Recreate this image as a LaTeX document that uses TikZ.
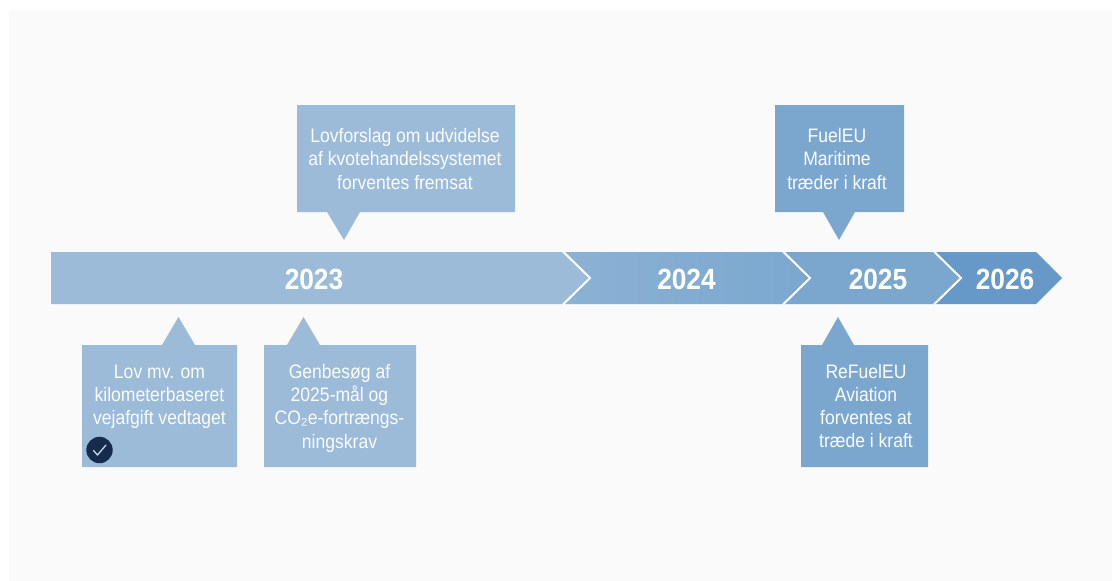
\documentclass[tikz,border=0pt]{standalone}
\usepackage{fontspec}
\setmainfont[FakeStretch=0.9]{Liberation Sans}
\definecolor{bgc}{HTML}{FAFAFA}
\definecolor{cA}{HTML}{9BBBD9}
\definecolor{cAB}{HTML}{8CB1D4}
\definecolor{cB}{HTML}{7BA7CF}
\definecolor{cC}{HTML}{6699C8}
\definecolor{navy}{HTML}{172B4D}
\tikzset{
  label/.style={text=white!96!cA,align=center,anchor=center,font=\fontsize{19.5}{23.3}\selectfont,inner sep=0pt},
  yr/.style={text=white,anchor=center,font=\fontsize{29.2}{30}\selectfont\bfseries,inner sep=0pt},
  notch/.style={white,line width=2pt},
}
\begin{document}
\begin{tikzpicture}[x=1pt,y=-1pt]
\useasboundingbox (0,0) rectangle (1112,581);
\fill[bgc] (9,11) rectangle (1112,581);
% ribbon
\fill[cC] (933,252) -- (1036,252) -- (1062,278) -- (1036,304) -- (933,304) -- cycle;
\fill[cB] (783,252) -- (934,252) -- (961,278) -- (934,304) -- (783,304) -- cycle;
\draw[notch] (934,251.5) -- (961,278) -- (934,304.5);
\shade[left color=cAB,right color=cB] (563,252) -- (783,252) -- (810,278) -- (783,304) -- (563,304) -- cycle;
\draw[notch] (783,251.5) -- (810,278) -- (783,304.5);
\fill[cA] (51,252) -- (563,252) -- (590,278) -- (563,304) -- (51,304) -- cycle;
\draw[notch] (563,251.5) -- (590,278) -- (563,304.5);
\node[yr] (y23) at (314,279) {2023};
\node[yr] (y24) at (686.5,279) {2024};
\node[yr] (y25) at (878,279) {2025};
\node[yr] (y26) at (1005,279) {2026};
% callouts
\fill[cA] (82,345) -- (162,345) -- (178.5,317) -- (195,345) -- (237,345) -- (237,467) -- (82,467) -- cycle;
\fill[cA] (264,345) -- (287,345) -- (303.5,317) -- (320,345) -- (416,345) -- (416,467) -- (264,467) -- cycle;
\fill[cA] (297,105) -- (515,105) -- (515,212) -- (360,212) -- (344,240) -- (327,212) -- (297,212) -- cycle;
\fill[cB] (775,105) -- (904,105) -- (904,212) -- (855,212) -- (839,240) -- (823,212) -- (775,212) -- cycle;
\fill[cB] (801,345) -- (822,345) -- (838,317) -- (854,345) -- (928,345) -- (928,467) -- (801,467) -- cycle;
\node[label] (a) at (159.5,396.7) {Lov mv. om\\kilometerbaseret\\vejafgift vedtaget};
\node[label] (b) at (339.5,408.3) {Genbesøg af\\2025-mål og\\CO₂e-fortrængs-\\ningskrav};
\node[label] (c) at (405,158.8) {Lovforslag om udvidelse\\af kvotehandelssystemet\\forventes fremsat};
\node[label] (d) at (837,158.8) {FuelEU\\Maritime\\træder i kraft};
\node[label] (e) at (866,406) {ReFuelEU\\Aviation\\forventes at\\træde i kraft};
% check badge
\fill[navy] (99.5,450) circle (13.2);
\draw[cA!60!white,line width=1.3pt,line cap=round,line join=round] (93.5,450.5) -- (97.5,455) -- (106,445);
\end{tikzpicture}
\end{document}
